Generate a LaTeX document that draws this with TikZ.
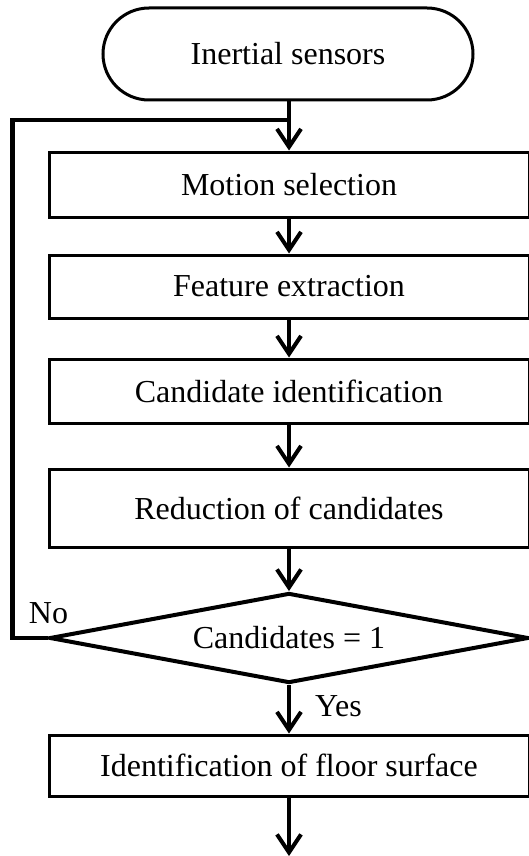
\documentclass[tikz,border=0pt]{standalone}
\usepackage{fontspec}
\setmainfont{Liberation Serif}
\usetikzlibrary{shapes.misc,shapes.geometric,arrows.meta}

\tikzset{
  x=1pt, y=1pt,
  every node/.style={font=\fontsize{32}{38}\selectfont},
  procbox/.style={draw, rectangle, line width=3pt, minimum width=480pt,
    inner sep=0pt},
  terminal/.style={draw, rounded rectangle, line width=3pt,
    minimum width=370pt, minimum height=92pt, inner sep=0pt},
  decision/.style={draw, diamond, line width=4pt, aspect=5.3,
    minimum width=479pt, minimum height=90pt, inner sep=0pt},
  flow/.style={line width=4pt, -{Straight Barb[length=18pt,width=24pt,line width=4pt]}},
  loopline/.style={line width=4.5pt, line join=miter},
  lbl/.style={inner sep=0pt}
}

\begin{document}
\begin{tikzpicture}
  \useasboundingbox (0,0) rectangle (528,-856);

  % flowchart steps
  \node[terminal] (term) at (288,-54) {Inertial sensors};
  \node[procbox, minimum height=65pt] (ms) at (289,-184.5) {Motion selection};
  \node[procbox, minimum height=63pt] (fe) at (289,-286.5) {Feature extraction};
  \node[procbox, minimum height=64pt] (ci) at (289,-391) {Candidate identification};
  \node[procbox, minimum height=78pt] (rc) at (289,-508) {Reduction of candidates};
  \node[decision] (dec) at (289,-638) {Candidates = 1};
  \node[procbox, minimum height=61pt] (fl) at (289,-765.5) {Identification of floor surface};

  % join point of the feedback loop and the open end at the bottom
  \coordinate (j) at (289,-120);
  \coordinate (out) at (289,-856);

  % main flow
  \draw[flow] (term.south -| j) -- (ms.north);
  \draw[flow] (ms) -- (fe);
  \draw[flow] (fe) -- (ci);
  \draw[flow] (ci) -- (rc);
  \draw[flow] (rc) -- (dec);
  \draw[flow] (dec) -- (fl);
  \draw[flow] (fl.south) -- (out);

  % "No" branch back to the top
  \draw[loopline] (dec.west) -- ++(-35,0) |- (j);

  % branch labels
  \node[lbl, anchor=base] (no) at (48.5,-623) {No};
  \node[lbl, anchor=base west] (yes) at (315,-716) {Yes};
\end{tikzpicture}
\end{document}
